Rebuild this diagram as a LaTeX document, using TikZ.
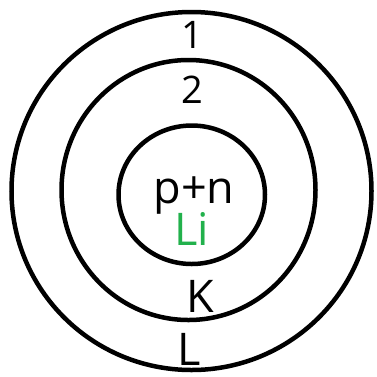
\documentclass[tikz,border=0pt]{standalone}
\usepackage{fontspec}
\setmainfont{Open Sans}
\definecolor{paintgreen}{HTML}{22B14C}
\begin{document}
\begin{tikzpicture}[x=1pt,y=-1pt,
  shell/.style={draw=black,line width=4.5pt},
  bigtext/.style={font=\fontsize{45}{45}\selectfont,anchor=base,inner sep=0pt},
  numtext/.style={font=\fontsize{38}{38}\selectfont,anchor=base,inner sep=0pt}]
\useasboundingbox (0,0) rectangle (377,376);
\draw[shell] (191.5,191) ellipse [x radius=180,y radius=179];
\draw[shell] (188.5,190) ellipse [x radius=127,y radius=130];
\draw[shell] (191.75,194.75) ellipse [x radius=73.25,y radius=69.25];
\node[numtext] (one) at (192,48) {1};
\node[numtext] (two) at (192,103) {2};
\node[bigtext] (pn) at (194,203) {p+n};
\node[bigtext,text=paintgreen] (li) at (192,245) {Li};
\node[bigtext] (k) at (200,312) {K};
\node[bigtext] (l) at (189,365) {L};
\end{tikzpicture}
\end{document}
